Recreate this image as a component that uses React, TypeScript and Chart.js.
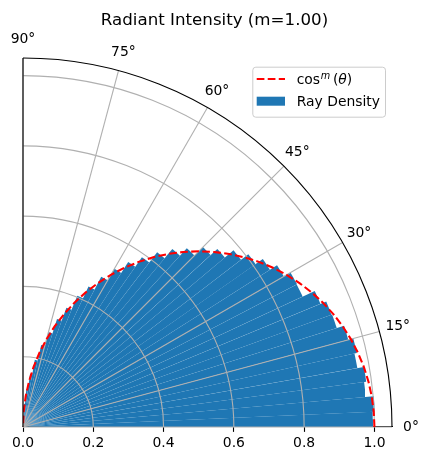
import React, { useEffect, useRef } from "react";
import { Chart, registerables } from "chart.js";

Chart.register(...registerables);

// ---------------- data ----------------
const titleText = "Radiant Intensity (m=1.00)";

// histogram bin edges (degrees) and ray density per bin
const binEdgesDeg = [
  0, 2.5, 5, 7.5, 10, 12.5, 15, 17.5, 20, 22.5, 25, 27.5, 30, 32.5, 35, 37.5, 40, 42.5,
  45, 47.5, 50, 52.5, 55, 57.5, 60, 62.5, 65, 67.5, 70, 72.5, 75, 77.5, 80, 82.5, 85, 87.5, 90,
];
const rayDensity = [
  0.996, 1.002, 0.979, 0.985, 0.966, 0.973, 0.958, 0.936, 0.934, 0.916, 0.878, 0.879,
  0.857, 0.833, 0.808, 0.782, 0.75, 0.724, 0.69, 0.661, 0.627, 0.59, 0.557, 0.52,
  0.482, 0.441, 0.404, 0.361, 0.322, 0.279, 0.239, 0.194, 0.153, 0.108, 0.066, 0.022,
];

// reference curve cos^m(theta), m = 1
const curveThetaDeg = [
  0, 2.5, 5, 7.5, 10, 12.5, 15, 17.5, 20, 22.5, 25, 27.5, 30, 32.5, 35, 37.5, 40, 42.5,
  45, 47.5, 50, 52.5, 55, 57.5, 60, 62.5, 65, 67.5, 70, 72.5, 75, 77.5, 80, 82.5, 85, 87.5, 90,
];
const curveCosM = [
  1.0, 0.999, 0.9962, 0.9914, 0.9848, 0.9763, 0.9659, 0.9537, 0.9397, 0.9239, 0.9063, 0.887,
  0.866, 0.8434, 0.8192, 0.7934, 0.766, 0.7373, 0.7071, 0.6756, 0.6428, 0.6088, 0.5736, 0.5373,
  0.5, 0.4617, 0.4226, 0.3827, 0.342, 0.3007, 0.2588, 0.2164, 0.1736, 0.1305, 0.0872, 0.0436, 0.0,
];

const radialTickValues = [0, 0.2, 0.4, 0.6, 0.8, 1.0];
const gridCircleRadii = [0.2, 0.4, 0.6, 0.8, 1.0];
const thetaTickDeg = [0, 15, 30, 45, 60, 75, 90];
const thetaTickLabels = ["0°", "15°", "30°", "45°", "60°", "75°", "90°"];
const rMax = 1.05;
const curveLabel = "cosᵐ(θ)";
const barLabel = "Ray Density";

// ---------------- style ----------------
const FONT = '"DejaVu Sans", "Liberation Sans", sans-serif';
const BLUE = "#1f77b4";
const RED = "#ff0000";
const GRID = "#b0b0b0";
const LW = 1.11;

function polar(r: number, deg: number) {
  const t = (deg * Math.PI) / 180;
  return { x: r * Math.cos(t), y: r * Math.sin(t) };
}

const decorPlugin = {
  id: "polarDecor",
  beforeDatasetDraw(chart: any, args: any) {
    if (args.index !== 0) return;
    const ctx = chart.ctx;
    const xs = chart.scales.x;
    const ys = chart.scales.y;
    const cx = xs.getPixelForValue(0);
    const cy = ys.getPixelForValue(0);
    ctx.save();
    ctx.strokeStyle = GRID;
    ctx.lineWidth = LW;
    ctx.setLineDash([]);
    for (const r of gridCircleRadii) {
      const R = xs.getPixelForValue(r) - cx;
      ctx.beginPath();
      ctx.arc(cx, cy, R, -Math.PI / 2, 0);
      ctx.stroke();
    }
    for (const d of thetaTickDeg) {
      const p = polar(rMax, d);
      ctx.beginPath();
      ctx.moveTo(cx, cy);
      ctx.lineTo(xs.getPixelForValue(p.x), ys.getPixelForValue(p.y));
      ctx.stroke();
    }
    ctx.restore();
  },
  afterDatasetsDraw(chart: any) {
    const ctx = chart.ctx;
    const xs = chart.scales.x;
    const ys = chart.scales.y;
    const cx = xs.getPixelForValue(0);
    const cy = ys.getPixelForValue(0);
    const R = xs.getPixelForValue(rMax) - cx;
    ctx.save();
    ctx.strokeStyle = "#000";
    ctx.lineWidth = LW;
    ctx.setLineDash([]);
    ctx.beginPath();
    ctx.moveTo(cx, cy);
    ctx.lineTo(cx, ys.getPixelForValue(rMax));
    ctx.stroke();
    ctx.beginPath();
    ctx.arc(cx, cy, R, -Math.PI / 2, 0);
    ctx.stroke();
    ctx.restore();
  },
  afterDraw(chart: any) {
    const ctx = chart.ctx;
    const xs = chart.scales.x;
    const ys = chart.scales.y;
    const area = chart.chartArea;
    ctx.save();
    // theta labels
    ctx.fillStyle = "#000";
    ctx.font = `13.9px ${FONT}`;
    ctx.textAlign = "center";
    ctx.textBaseline = "middle";
    thetaTickDeg.forEach((d, i) => {
      const p = polar(1.104, d);
      ctx.fillText(thetaTickLabels[i], xs.getPixelForValue(p.x), ys.getPixelForValue(p.y));
    });
    // title
    ctx.font = `16.67px ${FONT}`;
    ctx.textBaseline = "alphabetic";
    ctx.fillText(titleText, chart.width / 2, 24.5);

    // legend
    const L = area.right - 139.7;
    const T = area.top + 8.7;
    const W = 132.7;
    const H = 50;
    ctx.beginPath();
    ctx.roundRect(L + 0.5, T + 0.5, W, H, 3);
    ctx.fillStyle = "rgba(255,255,255,0.8)";
    ctx.fill();
    ctx.strokeStyle = "#cccccc";
    ctx.lineWidth = 1;
    ctx.stroke();

    // entry 1: dashed red line
    const y1 = T + 12.3;
    ctx.strokeStyle = RED;
    ctx.lineWidth = 2.08;
    ctx.setLineDash([7.7, 3.33]);
    ctx.beginPath();
    ctx.moveTo(L + 4.4, y1);
    ctx.lineTo(L + 32.7, y1);
    ctx.stroke();
    ctx.setLineDash([]);
    // entry 1 text (math-like)
    ctx.fillStyle = "#000";
    ctx.textAlign = "left";
    ctx.textBaseline = "alphabetic";
    const base1 = T + 17.6;
    let tx = L + 44.4;
    ctx.font = `13.9px ${FONT}`;
    const cosPart = curveLabel.slice(0, 3);
    ctx.fillText(cosPart, tx, base1);
    tx += ctx.measureText(cosPart).width + 0.6;
    ctx.font = `italic 9.7px ${FONT}`;
    ctx.fillText("m", tx, base1 - 5.6);
    tx += ctx.measureText("m").width + 2.8;
    ctx.font = `13.9px ${FONT}`;
    ctx.fillText("(", tx, base1);
    tx += ctx.measureText("(").width;
    ctx.font = `italic 13.9px ${FONT}`;
    ctx.fillText("θ", tx, base1);
    tx += ctx.measureText("θ").width;
    ctx.font = `13.9px ${FONT}`;
    ctx.fillText(")", tx, base1);

    // entry 2: blue patch
    ctx.fillStyle = BLUE;
    ctx.fillRect(L + 4.4, T + 30, 28.3, 9);
    ctx.fillStyle = "#000";
    ctx.font = `13.9px ${FONT}`;
    ctx.fillText(barLabel, L + 44.4, T + 39.1);
    ctx.restore();
  },
};

export default function App() {
  const canvasRef = useRef<HTMLCanvasElement | null>(null);

  useEffect(() => {
    const canvas = canvasRef.current;
    if (!canvas) return;

    const curveData = curveThetaDeg.map((d, i) => polar(curveCosM[i], d));

    const barDatasets = rayDensity.map((r, i) => {
      const a0 = binEdgesDeg[i];
      const a1 = binEdgesDeg[i + 1];
      const am = (a0 + a1) / 2;
      return {
        label: i === 0 ? barLabel : "",
        data: [{ x: 0, y: 0 }, polar(r, a0), polar(r, am), polar(r, a1)],
        backgroundColor: BLUE,
        borderColor: "rgba(0,0,0,0)",
        borderWidth: 0,
        pointRadius: 0,
        pointHoverRadius: 0,
        tension: 0,
        fill: "shape",
      };
    });

    const chart = new Chart(canvas, {
      type: "line",
      data: {
        datasets: [
          {
            label: curveLabel,
            data: curveData,
            borderColor: RED,
            borderWidth: 2.08,
            borderDash: [7.7, 3.33],
            pointRadius: 0,
            pointHoverRadius: 0,
            tension: 0,
            fill: false,
          },
          ...barDatasets,
        ],
      } as any,
      options: {
        animation: false,
        responsive: false,
        events: [],
        layout: { padding: { left: 23, right: 37, top: 58, bottom: 0 } },
        plugins: {
          legend: { display: false },
          title: { display: false },
          tooltip: { enabled: false },
        },
        scales: {
          x: {
            type: "linear",
            min: 0,
            max: rMax,
            position: "bottom",
            z: 1,
            afterBuildTicks: (scale: any) => {
              scale.ticks = radialTickValues.map((v) => ({ value: v }));
            },
            afterFit: (scale: any) => {
              scale.height = 35;
            },
            ticks: {
              autoSkip: false,
              maxRotation: 0,
              padding: 3,
              color: "#000",
              font: { family: FONT, size: 13.9 },
              callback: (v: any) => Number(v).toFixed(1),
            },
            grid: {
              display: true,
              drawOnChartArea: false,
              drawTicks: true,
              tickLength: 4.86,
              tickWidth: LW,
              tickColor: "#000",
              color: "#000",
            },
            border: { display: true, color: "#000", width: LW },
          },
          y: {
            type: "linear",
            min: 0,
            max: rMax,
            display: false,
          },
        },
      } as any,
      plugins: [decorPlugin],
    });

    return () => chart.destroy();
  }, []);

  return (
    <div style={{ position: "absolute", left: 0, top: 0, width: 429, height: 462, background: "#fff" }}>
      <canvas ref={canvasRef} width={429} height={462} style={{ width: 429, height: 462, display: "block" }} />
    </div>
  );
}
